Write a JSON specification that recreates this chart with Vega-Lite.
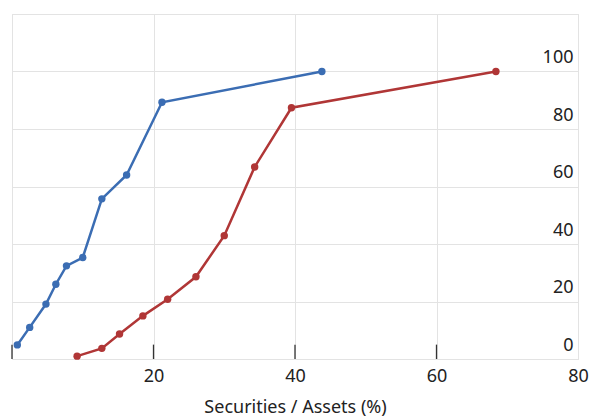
{
  "$schema": "https://vega.github.io/schema/vega-lite/v6.json",
  "width": 566,
  "height": 345,
  "autosize": "none",
  "padding": {"left": 12, "top": 14, "right": 14, "bottom": 60},
  "background": "white",
  "config": {
    "font": "Noto Sans",
    "view": {"stroke": "#dedede", "strokeWidth": 1}
  },
  "datasets": {
    "series": [
      {"series": "A", "x": 0.75, "y": 4.9},
      {"series": "A", "x": 2.5, "y": 11.0},
      {"series": "A", "x": 4.8, "y": 19.1},
      {"series": "A", "x": 6.2, "y": 26.0},
      {"series": "A", "x": 7.7, "y": 32.4},
      {"series": "A", "x": 10.0, "y": 35.3},
      {"series": "A", "x": 12.7, "y": 55.7},
      {"series": "A", "x": 16.2, "y": 64.0},
      {"series": "A", "x": 21.2, "y": 89.3},
      {"series": "A", "x": 43.8, "y": 100},
      {"series": "B", "x": 9.2, "y": 1.0},
      {"series": "B", "x": 12.7, "y": 3.7},
      {"series": "B", "x": 15.2, "y": 8.7},
      {"series": "B", "x": 18.5, "y": 15.0},
      {"series": "B", "x": 22.0, "y": 20.8},
      {"series": "B", "x": 26.0, "y": 28.6},
      {"series": "B", "x": 30.0, "y": 42.9},
      {"series": "B", "x": 34.3, "y": 66.8},
      {"series": "B", "x": 39.5, "y": 87.4},
      {"series": "B", "x": 68.4, "y": 100}
    ],
    "ticks": [{"x": 0}, {"x": 20}, {"x": 40}, {"x": 60}]
  },
  "layer": [
    {
      "data": {"name": "series"},
      "mark": {"type": "line", "strokeWidth": 2.5, "point": {"filled": true, "size": 55, "opacity": 1}},
      "encoding": {
        "x": {
          "field": "x", "type": "quantitative",
          "scale": {"domain": [0, 80], "nice": false, "zero": false},
          "axis": {
            "values": [0, 20, 40, 60, 80],
            "title": "Securities / Assets (%)",
            "titleFont": "Noto Sans", "titleFontSize": 18, "titleFontWeight": "normal", "titleColor": "#222",
            "titlePadding": 13,
            "labelFontSize": 18, "labelColor": "#222", "labelPadding": 8,
            "labelExpr": "datum.value == 0 ? '' : datum.label",
            "ticks": false, "tickSize": 0,
            "domain": false,
            "gridColor": "#e3e3e3",
            "labelFlush": false
          }
        },
        "y": {
          "field": "y", "type": "quantitative",
          "scale": {"domain": [0, 120], "nice": false},
          "axis": {
            "orient": "right",
            "values": [0, 20, 40, 60, 80, 100, 120],
            "labelExpr": "datum.value == 120 ? '' : datum.label",
            "title": null,
            "ticks": false,
            "domain": false,
            "labelAlign": "right",
            "labelBaseline": "bottom",
            "labelPadding": -5,
            "labelOffset": -5,
            "labelFontSize": 18, "labelColor": "#222",
            "gridColor": "#e3e3e3"
          }
        },
        "color": {
          "field": "series", "type": "nominal", "legend": null,
          "scale": {"domain": ["A", "B"], "range": ["#3b6db3", "#b03636"]}
        }
      }
    },
    {
      "data": {"name": "ticks"},
      "mark": {"type": "rule", "color": "#333", "strokeWidth": 1.3},
      "encoding": {
        "x": {"field": "x", "type": "quantitative"},
        "y": {"datum": 0},
        "y2": {"datum": 5}
      }
    }
  ]
}
